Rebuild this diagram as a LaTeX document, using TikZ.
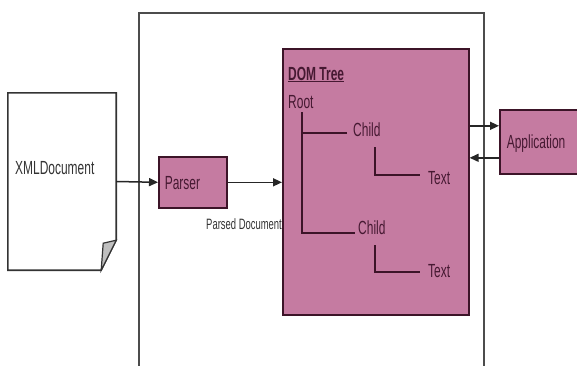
\documentclass[tikz,border=0pt]{standalone}
\usepackage{fontspec}
\setmainfont{Liberation Sans}[FakeStretch=0.63]
\usetikzlibrary{arrows.meta}
\definecolor{dompink}{RGB}{197,123,161}
\definecolor{domline}{RGB}{60,20,40}
\definecolor{domtext}{RGB}{70,25,50}

\begin{document}
\begin{tikzpicture}[x=1pt,y=-1pt,
	font=\fontsize{19}{22}\selectfont,
	box/.style={draw=domline,line width=1.6pt,fill=dompink,text=domtext,inner sep=0pt,text height=13.6pt,text depth=0pt},
	lbl/.style={inner sep=0pt,anchor=base west},
	tree/.style={draw=domline,line width=1.8pt},
	flow/.style={draw=black!85,line width=1.5pt,-{Triangle[length=9pt,width=8pt]}}]
	\useasboundingbox (0,0) rectangle (577,365);
	\draw [black!70,line width=1.4pt] (139,366) |- (484,13) -- (484,366);
	\node [minimum width=108pt,minimum height=177pt,inner sep=0pt] (xml) at (62,181.5) {};
	\draw [black!80,line width=1.6pt,fill=white] (xml.north west) -- (xml.north east) -- ([yshift=30pt]xml.south east) -- ([xshift=-15pt]xml.south east) -- (xml.south west) -- cycle;
	\draw [black!80,line width=1.2pt,fill=black!25] ([yshift=30pt]xml.south east) -- ([xshift=-13pt,yshift=27pt]xml.south east) -- ([xshift=-15pt]xml.south east) -- cycle;
	\node [lbl,text=black!80] (xmltext) at (15,174) {XMLDocument};
	\node [box,anchor=north west,minimum width=68pt,minimum height=51pt,text width=56pt,inner xsep=6pt] (parser) at (158,156) {Parser};
	\node [lbl,text=black!80,font=\fontsize{15}{18}\selectfont] (parsed) at (206,229.5) {Parsed Document};
	\node [box,anchor=north west,minimum width=186pt,minimum height=266pt] (dom) at (282,48) {};
	\node [box,anchor=north west,minimum height=64pt,text width=80pt,inner xsep=7pt] (app) at (499,109) {Application};
	\node [lbl,text=domtext] (title) at (288,80) {\textbf{\underline{DOM Tree}}};
	\node [lbl,text=domtext] (root) at (288,108) {Root};
	\node [lbl,text=domtext] (child1) at (353,136) {Child};
	\node [lbl,text=domtext] (text1) at (428,184) {Text};
	\node [lbl,text=domtext] (child2) at (358,234) {Child};
	\node [lbl,text=domtext] (text2) at (428,277) {Text};
	\draw [tree] ([xshift=14pt,yshift=-4pt]root.base west) |- ([xshift=-3pt,yshift=1pt]child2.base west);
	\draw [tree] ([xshift=-6pt,yshift=3pt]child1.base west) -- ++(-45,0);
	\draw [tree] ([xshift=22pt,yshift=-11pt]child1.base west) |- ([xshift=-8pt,yshift=9pt]text1.base west);
	\draw [tree] ([xshift=17pt,yshift=-11pt]child2.base west) |- ([xshift=-8pt,yshift=5pt]text2.base west);
	\draw [flow] (xml.east) -- (parser.west);
	\draw [flow] (parser.east) -- (parser.east -| dom.west);
	\coordinate (toapp) at ([yshift=16pt]app.west);
	\coordinate (fromapp) at ([yshift=-16pt]app.west);
	\draw [flow] (toapp -| dom.east) -- (toapp);
	\draw [flow] (fromapp) -- (fromapp -| dom.east);
\end{tikzpicture}
\end{document}
